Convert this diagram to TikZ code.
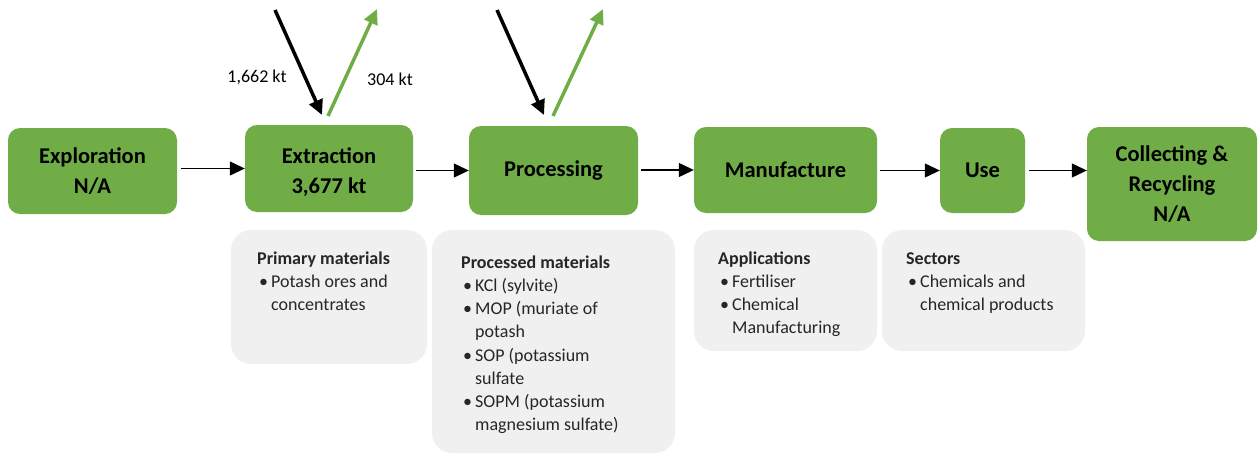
\documentclass[tikz,border=0pt]{standalone}
\usepackage{fontspec}
\setmainfont{Carlito}
\usetikzlibrary{arrows.meta}
\definecolor{gfill}{HTML}{70AD47}
\definecolor{lgrey}{HTML}{F0F0F0}
\definecolor{dtext}{HTML}{262626}
\definecolor{larrow}{HTML}{70AD47}
\newcommand{\bitem}[1]{\hspace*{2pt}\makebox[12pt][l]{•}#1}
\newcommand{\bcont}[1]{\hspace*{14pt}#1}
\newcommand{\topstrut}{\rule{0pt}{14pt}}
\tikzset{
  gbox/.style={draw=none, fill=gfill, rounded corners=12pt, inner sep=0pt, align=center,
    font=\fontsize{22.5}{30}\selectfont\bfseries, text=black},
  greybox/.style={draw=none, fill=lgrey, rounded corners=20pt, inner sep=0pt},
  listtext/.style={inner sep=0pt, anchor=north west, align=left, text=dtext,
    font=\fontsize{18}{23.2}\selectfont},
  flowarrow/.style={line width=1.2pt, -{Triangle[length=15pt,width=14pt]}},
  inarrow/.style={line width=3.5pt, black, -{Triangle[length=15pt,width=14pt]}},
  outarrow/.style={line width=3.5pt, larrow, -{Triangle[length=15pt,width=14pt]}},
  qlabel/.style={inner sep=0pt, font=\fontsize{18}{22}\selectfont, text=black}
}
\begin{document}
\begin{tikzpicture}[x=1pt,y=-1pt]
\useasboundingbox (0,0) rectangle (1258,455);
% green boxes
\node[gbox, minimum width=169pt, minimum height=86pt] (expl) at (92.5,171) {Exploration\\N/A};
\node[gbox, minimum width=168pt, minimum height=87pt] (extr) at (329,168.5) {\rule{0pt}{24pt}Extraction\\3,677 kt};
\node[gbox, minimum width=169pt, minimum height=89pt] (proc) at (553.5,170.5) {Processing};
\node[gbox, minimum width=183pt, minimum height=86pt] (manu) at (785.5,170) {Manufacture};
\node[gbox, minimum width=85pt, minimum height=85pt] (use) at (982.5,170.5) {Use};
\node[gbox, minimum width=170pt, minimum height=114pt] (coll) at (1172,184) {Collecting \&\\Recycling\\N/A};
% flow arrows
\draw[flowarrow] ([xshift=-64pt]extr.west) coordinate (a1) -- (extr.west);
\draw[flowarrow] ([xshift=-53pt]proc.west) coordinate (a2) -- (proc.west);
\draw[flowarrow] ([xshift=-53pt]manu.west) coordinate (a3) -- (manu.west);
\draw[flowarrow] ([xshift=-60pt]use.west) coordinate (a4) -- (use.west);
\draw[flowarrow] ([xshift=-58pt]coll.west |- use.west) coordinate (a5) -- (coll.west |- use.west);
% inflows / outflows
\coordinate (i1s) at (275,10);
\coordinate (i1e) at (322,115);
\coordinate (o1s) at (328,116);
\coordinate (o1e) at (377,9);
\coordinate (i2s) at (497,10);
\coordinate (i2e) at (544,115);
\coordinate (o2s) at (553,116);
\coordinate (o2e) at (603,9);
\draw[inarrow] (i1s) -- (i1e);
\draw[outarrow] (o1s) -- (o1e);
\draw[inarrow] (i2s) -- (i2e);
\draw[outarrow] (o2s) -- (o2e);
\node[qlabel] (l1) at (257,77) {1,662 kt};
\node[qlabel] (l2) at (390,79) {304 kt};
% grey boxes
\node[greybox, minimum width=196pt, minimum height=134pt] (prim) at (329,297) {};
\node[greybox, minimum width=243pt, minimum height=223pt] (pmat) at (553.5,341.5) {};
\node[greybox, minimum width=183pt, minimum height=121pt] (appl) at (785.5,290.5) {};
\node[greybox, minimum width=203pt, minimum height=121pt] (sect) at (983.5,290.5) {};
\node[listtext] (primt) at (257,250) {\topstrut\textbf{Primary materials}\\\bitem{Potash ores and}\\\bcont{concentrates}};
\node[listtext] (pmatt) at (461,254) {\topstrut\textbf{Processed materials}\\\bitem{KCl (sylvite)}\\\bitem{MOP (muriate of}\\\bcont{potash}\\\bitem{SOP (potassium}\\\bcont{sulfate}\\\bitem{SOPM (potassium}\\\bcont{magnesium sulfate)}};
\node[listtext] (applt) at (718,250) {\topstrut\textbf{Applications}\\\bitem{Fertiliser}\\\bitem{Chemical}\\\bcont{Manufacturing}};
\node[listtext] (sectt) at (906,250) {\topstrut\textbf{Sectors}\\\bitem{Chemicals and}\\\bcont{chemical products}};
\end{tikzpicture}
\end{document}
